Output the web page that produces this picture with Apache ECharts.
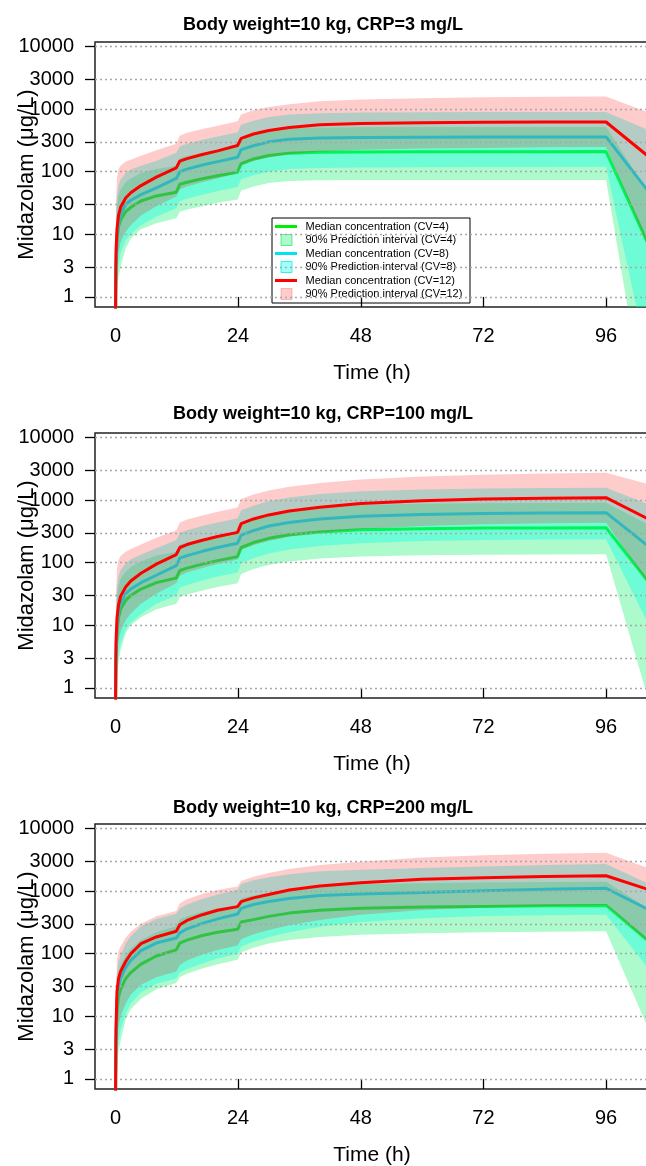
<!DOCTYPE html>
<html>
<head>
<meta charset="utf-8">
<script src="https://cdn.jsdelivr.net/npm/echarts@6/dist/echarts.min.js"></script>
<style>
html,body{margin:0;padding:0;background:#fff;}
#chart{width:646px;height:1166px;}
</style>
</head>
<body>
<div id="chart"></div>
<script>
// ---------------- DATA ----------------
const timeH = [0, 0.1, 0.3, 0.6, 1, 2, 3, 5, 8, 11.9, 12.6, 14, 17, 20, 23.9, 24.6, 27, 30, 34, 40, 48, 60, 72, 84, 96, 104.4];
const yTickValues = [1, 3, 10, 30, 100, 300, 1000, 3000, 10000];
const xTickValues = [0, 24, 48, 72, 96];
const panelTitles = ['Body weight=10 kg, CRP=3 mg/L', 'Body weight=10 kg, CRP=100 mg/L', 'Body weight=10 kg, CRP=200 mg/L'];
const cvNames = ['CV=4', 'CV=8', 'CV=12'];

// Panel 1: CRP = 3 mg/L
const crp3_cv4_median = [0.3, 2.5, 8, 13, 17, 23, 27, 34, 41, 47, 63, 68, 77, 86, 98, 135, 160, 182, 198, 204, 207, 208, 208, 209, 210, 6.5];
const crp3_cv4_lower  = [0.3, 0.5, 1.5, 2, 3, 6, 8.5, 12, 15, 18, 23, 25, 28, 32, 36, 50, 58, 66, 71, 73, 74, 74, 74, 74, 74, 0.0065];
const crp3_cv4_upper  = [0.35, 10, 28, 42, 52, 68, 78, 95, 110, 125, 165, 178, 200, 225, 255, 345, 410, 460, 500, 510, 515, 518, 518, 518, 520, 45];
const crp3_cv8_median = [0.3, 3, 9, 15, 21, 30, 35, 43, 55, 78, 100, 110, 128, 145, 170, 225, 260, 300, 330, 345, 352, 356, 358, 359, 360, 47];
const crp3_cv8_lower  = [0.3, 0.6, 1.8, 3, 5, 8, 10, 14, 19, 26, 34, 37, 43, 49, 57, 76, 88, 100, 110, 115, 117, 118, 119, 119, 120, 0.08];
const crp3_cv8_upper  = [0.35, 14, 40, 60, 75, 95, 108, 125, 150, 200, 255, 280, 325, 365, 425, 560, 650, 750, 820, 860, 880, 890, 895, 899, 900, 460];
const crp3_cv12_median = [0.3, 5, 12, 20, 27, 38, 46, 60, 82, 115, 148, 162, 188, 215, 262, 340, 400, 455, 510, 560, 590, 608, 615, 620, 622, 172];
const crp3_cv12_lower  = [0.3, 1, 3, 5, 7.5, 11, 14, 20, 28, 40, 52, 58, 68, 78, 95, 125, 148, 168, 190, 210, 225, 235, 240, 245, 248, 6];
const crp3_cv12_upper  = [0.35, 30, 80, 110, 125, 145, 155, 180, 220, 280, 380, 420, 480, 540, 640, 820, 960, 1080, 1200, 1330, 1420, 1490, 1540, 1570, 1596, 880];

// Panel 2: CRP = 100 mg/L
const crp100_cv4_median = [0.3, 2.5, 8, 13, 18, 25, 30, 38, 48, 57, 75, 82, 95, 108, 125, 175, 210, 245, 280, 310, 335, 350, 357, 360, 362, 48];
const crp100_cv4_lower  = [0.3, 0.5, 1.5, 2.5, 4, 7.5, 10, 13.5, 18, 22, 28, 31, 36, 41, 47, 66, 79, 92, 105, 117, 126, 131, 134, 135, 136, 0.6];
const crp100_cv4_upper  = [0.35, 10, 28, 42, 55, 72, 85, 105, 130, 150, 195, 210, 240, 270, 310, 440, 525, 610, 700, 775, 835, 875, 893, 900, 908, 400];
const crp100_cv8_median = [0.3, 3, 9, 16, 22, 32, 38, 48, 63, 90, 118, 130, 152, 175, 205, 275, 325, 385, 440, 500, 550, 590, 610, 622, 630, 180];
const crp100_cv8_lower  = [0.3, 0.6, 1.8, 3.3, 5.2, 8.5, 11, 15, 22, 30, 40, 44, 52, 60, 70, 98, 118, 140, 162, 185, 205, 222, 230, 234, 236, 10];
const crp100_cv8_upper  = [0.35, 14, 40, 60, 76, 98, 112, 135, 170, 230, 300, 330, 385, 440, 515, 690, 815, 965, 1100, 1250, 1380, 1480, 1530, 1560, 1578, 850];
const crp100_cv12_median = [0.3, 5, 13, 21, 29, 41, 51, 68, 95, 135, 175, 195, 228, 262, 305, 420, 500, 580, 670, 770, 880, 980, 1040, 1075, 1092, 492];
const crp100_cv12_lower  = [0.3, 1, 3, 5.5, 8, 12, 15.5, 22, 32, 47, 62, 70, 82, 95, 112, 160, 190, 222, 260, 300, 345, 385, 410, 428, 436, 45];
const crp100_cv12_upper  = [0.35, 30, 80, 110, 128, 150, 165, 195, 250, 330, 440, 490, 570, 650, 760, 1040, 1230, 1420, 1630, 1880, 2130, 2380, 2530, 2650, 2740, 1780];

// Panel 3: CRP = 200 mg/L
const crp200_cv4_median = [0.3, 3, 12, 20, 27, 40, 50, 68, 92, 115, 148, 165, 195, 220, 245, 320, 350, 395, 445, 495, 530, 556, 570, 582, 590, 157];
const crp200_cv4_lower  = [0.3, 0.5, 1.5, 2.8, 4, 9, 13, 19, 27, 34, 42, 48, 58, 68, 80, 105, 125, 145, 165, 185, 200, 212, 220, 225, 228, 6];
const crp200_cv4_upper  = [0.35, 8, 30, 50, 65, 95, 120, 165, 220, 275, 355, 395, 470, 530, 590, 770, 850, 950, 1070, 1190, 1270, 1335, 1370, 1395, 1410, 520];
const crp200_cv8_median = [0.3, 4, 18, 30, 40, 60, 78, 112, 148, 178, 215, 250, 305, 360, 430, 530, 610, 680, 760, 850, 900, 950, 1010, 1070, 1110, 500];
const crp200_cv8_lower  = [0.3, 0.6, 2, 4, 6, 11, 16, 24, 33, 40, 50, 57, 70, 84, 100, 130, 155, 185, 220, 270, 320, 370, 400, 410, 420, 56];
const crp200_cv8_upper  = [0.35, 16, 50, 75, 95, 147, 190, 275, 360, 435, 525, 610, 745, 880, 1050, 1300, 1490, 1660, 1860, 2080, 2200, 2330, 2470, 2620, 2720, 1300];
const crp200_cv12_median = [0.3, 6, 25, 40, 52, 75, 100, 145, 185, 228, 290, 340, 420, 495, 565, 680, 780, 880, 1040, 1210, 1360, 1540, 1640, 1710, 1760, 1050];
const crp200_cv12_lower  = [0.3, 1, 4, 7, 10, 16, 22, 32, 42, 52, 66, 78, 97, 115, 135, 170, 205, 240, 285, 345, 420, 500, 545, 575, 600, 150];
const crp200_cv12_upper  = [0.35, 25, 80, 110, 130, 180, 225, 300, 395, 480, 640, 740, 900, 1040, 1180, 1450, 1700, 1950, 2250, 2600, 2950, 3450, 3750, 3950, 4100, 2300];

// ---------------- LAYOUT / STYLE ----------------
const FONT = '"Liberation Sans", Arial, Helvetica, sans-serif';
const gridTops = [42, 433, 824];
const gridHeight = 265;
const titleTops = [16, 405, 799];
const yMin = 0.69, yMax = 11800;
const xMin = -4, xMax = 104.4;
const lineColors = ['#00ee00', '#00e5ee', '#ff0000'];
const bandColors = ['rgba(0,240,100,0.32)', 'rgba(0,255,230,0.36)', 'rgba(255,0,0,0.20)'];
const bandBorders = ['rgba(0,220,90,0.55)', 'rgba(0,235,235,0.75)', 'rgba(255,80,80,0.35)'];
// drawing order: band CV4, line CV4, band CV8, line CV8, band CV12, grid lines, line CV12
const bandZ = [1, 3, 5];
const lineZ = [2, 4, 7];
const gridLineZ = 6;

const panels = [
  { title: panelTitles[0], groups: [
    {median: crp3_cv4_median, lower: crp3_cv4_lower, upper: crp3_cv4_upper},
    {median: crp3_cv8_median, lower: crp3_cv8_lower, upper: crp3_cv8_upper},
    {median: crp3_cv12_median, lower: crp3_cv12_lower, upper: crp3_cv12_upper}]},
  { title: panelTitles[1], groups: [
    {median: crp100_cv4_median, lower: crp100_cv4_lower, upper: crp100_cv4_upper},
    {median: crp100_cv8_median, lower: crp100_cv8_lower, upper: crp100_cv8_upper},
    {median: crp100_cv12_median, lower: crp100_cv12_lower, upper: crp100_cv12_upper}]},
  { title: panelTitles[2], groups: [
    {median: crp200_cv4_median, lower: crp200_cv4_lower, upper: crp200_cv4_upper},
    {median: crp200_cv8_median, lower: crp200_cv8_lower, upper: crp200_cv8_upper},
    {median: crp200_cv12_median, lower: crp200_cv12_lower, upper: crp200_cv12_upper}]}
];

// polygon band between lower and upper, drawn once per series through the axis scales
function renderBand(color) {
  return function (params, api) {
    if (params.dataIndexInside !== 0) return null;
    const n = params.dataInsideLength;
    const pts = [];
    for (let j = 0; j < n; j++) pts.push(api.coord([api.value(0, j), api.value(2, j)]));
    for (let j = n - 1; j >= 0; j--) pts.push(api.coord([api.value(0, j), api.value(1, j)]));
    const cs = params.coordSys;
    return {
      type: 'polygon',
      shape: {points: pts},
      style: {fill: color, stroke: null},
      clipPath: {type: 'rect', shape: {x: cs.x, y: cs.y, width: cs.width, height: cs.height}},
      silent: true
    };
  };
}

const option = {
  animation: false,
  backgroundColor: '#fff',
  textStyle: {fontFamily: FONT, color: '#000'},
  title: [], grid: [], xAxis: [], yAxis: [], series: [], graphic: []
};

panels.forEach((p, i) => {
  option.title.push({
    text: p.title, left: 'center', top: titleTops[i], padding: 0,
    textStyle: {fontSize: 18, fontWeight: 'bold', color: '#000', fontFamily: FONT}
  });
  option.grid.push({
    left: 95, top: gridTops[i], width: 554, height: gridHeight,
    outerBoundsMode: 'none', containLabel: false,
    show: true, borderColor: '#222', borderWidth: 1.5, backgroundColor: 'transparent'
  });
  option.xAxis.push({
    type: 'value', gridIndex: i, min: xMin, max: xMax,
    axisLine: {show: false},
    axisTick: {show: true, inside: false, length: 10, customValues: xTickValues, lineStyle: {color: '#000', width: 1.3}},
    axisLabel: {show: true, customValues: xTickValues, fontSize: 20, color: '#000', margin: 19, fontFamily: FONT},
    splitLine: {show: false},
    name: 'Time (h)', nameLocation: 'middle', nameGap: 56, nameMoveOverlap: false,
    nameTextStyle: {fontSize: 21, color: '#000', fontFamily: FONT}
  });
  // data axis (log scale)
  option.yAxis.push({
    type: 'log', logBase: 10, gridIndex: i, min: yMin, max: yMax,
    axisLine: {show: false}, axisTick: {show: false}, axisLabel: {show: false}, splitLine: {show: false}
  });
  // tick/label axis in log10 space, aligned with the log axis
  option.yAxis.push({
    type: 'value', gridIndex: i, position: 'left', z: gridLineZ,
    min: Math.log10(yMin), max: Math.log10(yMax),
    axisLine: {show: false},
    axisTick: {show: true, inside: false, length: 10, customValues: yTickValues.map(v => Math.log10(v)), lineStyle: {color: '#000', width: 1.3}},
    axisLabel: {show: true, customValues: yTickValues.map(v => Math.log10(v)), fontSize: 20, color: '#000', margin: 21, fontFamily: FONT,
      formatter: v => String(Math.round(Math.pow(10, v)))},
    splitLine: {show: true, lineStyle: {color: '#a8a8a8', width: 1.3, type: [2, 3]}},
    name: 'Midazolam (μg/L)', nameLocation: 'middle', nameGap: 57, nameMoveOverlap: false,
    nameTextStyle: {fontSize: 22, color: '#000', fontFamily: FONT}
  });

  p.groups.forEach((g, k) => {
    option.series.push({
      type: 'custom', name: '90% Prediction interval (' + cvNames[k] + ')',
      xAxisIndex: i, yAxisIndex: 2 * i, z: bandZ[k], silent: true,
      encode: {x: 0, y: [1, 2]},
      renderItem: renderBand(bandColors[k]),
      data: timeH.map((t, j) => [t, g.lower[j], g.upper[j]])
    });
    option.series.push({
      type: 'line', name: 'Median concentration (' + cvNames[k] + ')',
      xAxisIndex: i, yAxisIndex: 2 * i, z: lineZ[k], silent: true,
      symbol: 'none', showSymbol: false,
      lineStyle: {color: lineColors[k], width: 3},
      data: timeH.map((t, j) => [t, g.median[j]])
    });
  });
});

// Legend (panel 1 only)
const legendX = 272, legendY = 218, legendW = 198, legendH = 85;
const legendRowY = [226.5, 240, 253.5, 267, 280.5, 294];
const legendChildren = [{
  type: 'rect', shape: {x: legendX, y: legendY, width: legendW, height: legendH},
  style: {fill: '#fff', stroke: '#000', lineWidth: 1}
}];
cvNames.forEach((cv, k) => {
  const yl = legendRowY[2 * k], yb = legendRowY[2 * k + 1];
  legendChildren.push({type: 'line', shape: {x1: 275, y1: yl, x2: 297, y2: yl}, style: {stroke: lineColors[k], lineWidth: 3}});
  legendChildren.push({type: 'text', style: {text: 'Median concentration (' + cv + ')', x: 305.5, y: yl, fontSize: 11, fontFamily: FONT, fill: '#000', verticalAlign: 'middle'}});
  legendChildren.push({type: 'rect', shape: {x: 281, y: yb - 5.5, width: 11, height: 11}, style: {fill: bandColors[k], stroke: bandBorders[k], lineWidth: 1}});
  legendChildren.push({type: 'text', style: {text: '90% Prediction interval (' + cv + ')', x: 305.5, y: yb, fontSize: 11, fontFamily: FONT, fill: '#000', verticalAlign: 'middle'}});
});
option.graphic.push({type: 'group', z: 100, children: legendChildren});

const chart = echarts.init(document.getElementById('chart'), null, {renderer: 'canvas'});
chart.setOption(option);
</script>
</body>
</html>
